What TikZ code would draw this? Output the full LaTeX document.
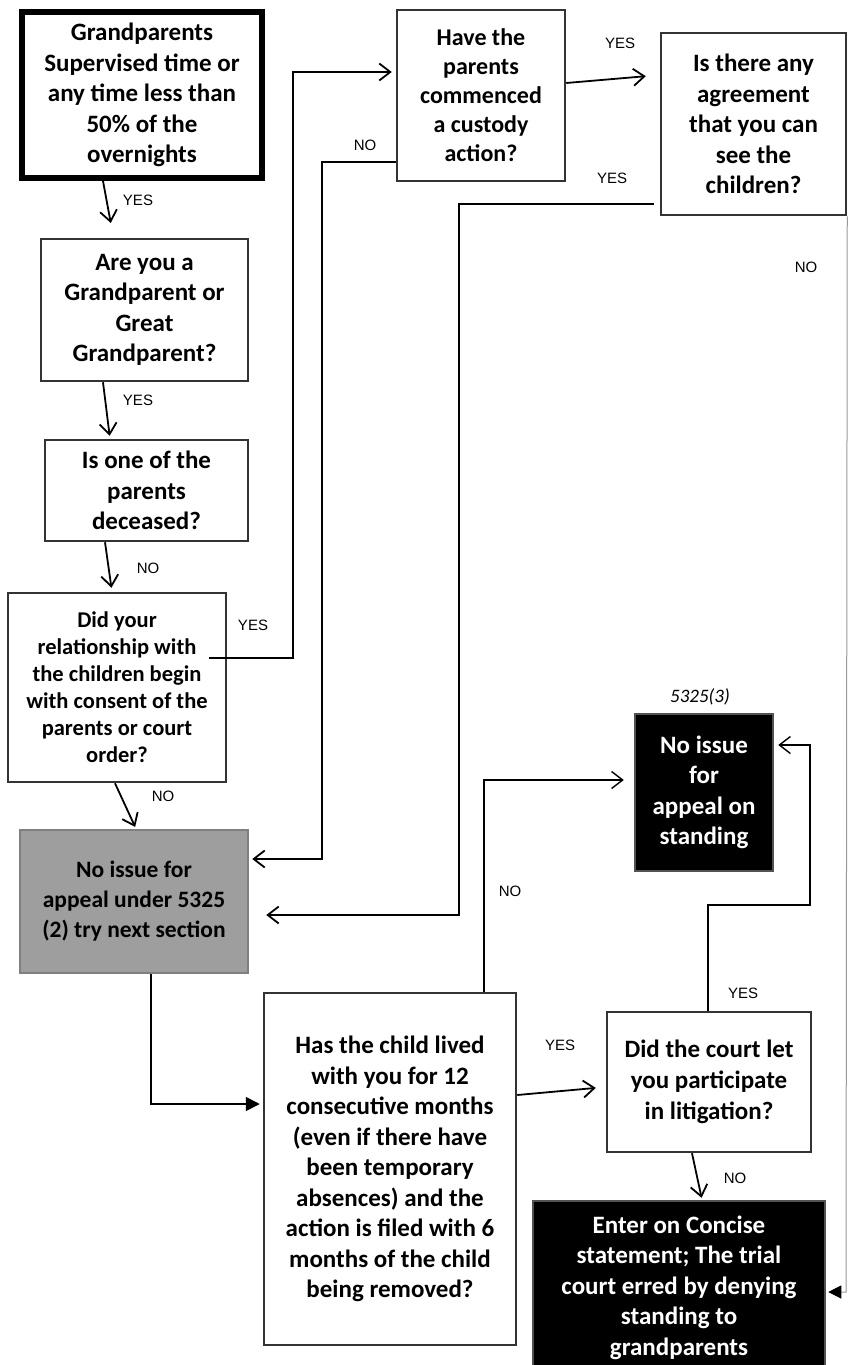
\documentclass[tikz,border=0pt]{standalone}
\usepackage{fontspec}
\setmainfont{Carlito}
\newfontfamily\lblfont{Liberation Sans}
\usetikzlibrary{arrows.meta,calc}
\tikzset{
  qbox/.style={draw=black!80, line width=2.5pt, fill=white, align=center, inner sep=0pt,
    font=\fontsize{25}{30.5}\selectfont\bfseries},
  startbox/.style={qbox, draw=black, line width=6pt},
  greybox/.style={qbox, fill=black!38, draw=black!50},
  endbox/.style={qbox, fill=black, draw=black!68, text=white},
  lbl/.style={font=\lblfont\fontsize{15}{18}\selectfont, inner sep=0pt},
  sect/.style={font=\itshape\fontsize{19}{22}\selectfont, inner sep=0pt},
  conn/.style={line width=1.8pt, -{Straight Barb[length=11pt,width=17pt,line width=1.8pt]}},
  thinconn/.style={line width=1.4pt, -{Straight Barb[length=11pt,width=17pt,line width=1.4pt]}},
  fconn/.style={line width=1.8pt, -{Triangle[length=14pt,width=14pt]}},
}
\begin{document}
\begin{tikzpicture}[x=1pt,y=-1pt]
\useasboundingbox (0,0) rectangle (847,1365);
\fill[white] (0,0) rectangle (847,1365);

% boxes
\node[startbox, minimum width=240pt, minimum height=166pt] (b1) at (142,95)
  {Grandparents\\Supervised time or\\any time less than\\50\% of the\\overnights};
\node[qbox, minimum width=207pt, minimum height=142pt] (b2) at (144.5,310)
  {Are you a\\Grandparent or\\Great\\Grandparent?};
\node[qbox, minimum width=203pt, minimum height=101pt] (b3) at (146.5,490.5)
  {Is one of the\\parents\\deceased?};
\node[qbox, minimum width=218pt, minimum height=189pt, font=\fontsize{22.5}{27}\selectfont\bfseries] (b4) at (117,687.5)
  {Did your\\relationship with\\the children begin\\with consent of the\\parents or court\\order?};
\node[greybox, minimum width=228pt, minimum height=143pt, font=\fontsize{23.5}{30}\selectfont\bfseries] (b5) at (134,901.5)
  {No issue for\\appeal under 5325\\(2) try next section};
\node[qbox, minimum width=168pt, minimum height=171pt, font=\fontsize{24}{29}\selectfont\bfseries] (b6) at (481,95.5)
  {Have the\\parents\\commenced\\a custody\\action?};
\node[qbox, minimum width=185pt, minimum height=182pt] (b7) at (753.5,124)
  {Is there any\\agreement\\that you can\\see the\\children?};
\node[endbox, minimum width=138pt, minimum height=157pt] (b8) at (704,792.5)
  {No issue\\for\\appeal on\\standing};
\node[qbox, minimum width=252pt, minimum height=352pt] (b9) at (390,1169)
  {Has the child lived\\with you for 12\\consecutive months\\(even if there have\\been temporary\\absences) and the\\action is filed with 6\\months of the child\\being removed?};
\node[qbox, minimum width=204pt, minimum height=140pt, font=\fontsize{25}{31}\selectfont\bfseries] (b10) at (709,1082)
  {Did the court let\\you participate\\in litigation?};
\node[endbox, minimum width=292pt, minimum height=173pt] (b11) at (679,1287.5)
  {Enter on Concise\\statement; The trial\\court erred by denying\\standing to\\grandparents};

\node[sect] (s3) at (700,697) {5325(3)};

% corner coordinates
\coordinate (k1) at (293,72);
\coordinate (k2) at (322,859);
\coordinate (k3) at (459,915);
\coordinate (k4) at (846,1292);
\coordinate (k5) at (810,905);

% connectors
\draw[conn, shorten >=15pt] ([xshift=-39pt]b1.south) -- ([xshift=-31pt]b2.north);
\draw[conn, shorten >=3pt] ([xshift=-41.5pt]b2.south) -- ([xshift=-36.5pt]b3.north);
\draw[conn, shorten >=4pt] ([xshift=-41.5pt]b3.south) -- ([xshift=-5pt]b4.north);
\draw[conn, shorten >=2pt] ([xshift=-2pt]b4.south) -- ([xshift=2pt]b5.north);
\draw[conn, shorten >=4pt] ([xshift=-18pt,yshift=29.5pt]b4.east) -| (k1) -- ([yshift=23.5pt]b6.west);
\draw[conn, shorten >=3pt] ([yshift=-66.5pt]b6.west) -| (k2) -- ([yshift=42.5pt]b5.east);
\draw[conn, shorten >=14pt] ([yshift=12.5pt]b6.east) -- ([yshift=49pt]b7.west);
\draw[conn, shorten >=17pt] ([xshift=-6pt,yshift=-80pt]b7.west) -| (k3) -- ([yshift=-13.5pt]b5.east);
\draw[line width=1pt, draw=black!40, -{Triangle[length=13pt,width=13pt,color=black]}, shorten >=2pt]
  (b7.south east) -- (k4) -- ([yshift=-4.5pt]b11.east);
\draw[fconn, shorten >=3pt] ([xshift=17pt]b5.south) |- ([yshift=65pt]b9.west);
\draw[thinconn, shorten >=10pt] ([xshift=94pt]b9.north) |- ([yshift=12.5pt]b8.west);
\draw[thinconn, shorten >=4pt] ([xshift=-1pt]b10.north) |- (k5) |- ([yshift=47.5pt]b8.east);
\draw[conn, shorten >=10pt] ([yshift=74pt]b9.east) -- ([yshift=-5pt]b10.west);
\draw[conn, shorten >=2pt] ([xshift=-17pt]b10.south) -- ([xshift=23pt]b11.north);

% labels
\node[lbl] (l1) at (138,200) {YES};
\node[lbl] (l2) at (138,400) {YES};
\node[lbl] (l3) at (148,568) {NO};
\node[lbl] (l4) at (253,625) {YES};
\node[lbl] (l5) at (163,796) {NO};
\node[lbl] (l6) at (365,145) {NO};
\node[lbl] (l7) at (620,43) {YES};
\node[lbl] (l8) at (612,178) {YES};
\node[lbl] (l9) at (806,267) {NO};
\node[lbl] (l10) at (510,891) {NO};
\node[lbl] (l11) at (743,993) {YES};
\node[lbl] (l12) at (560,1045) {YES};
\node[lbl] (l13) at (735,1178) {NO};
\end{tikzpicture}
\end{document}
